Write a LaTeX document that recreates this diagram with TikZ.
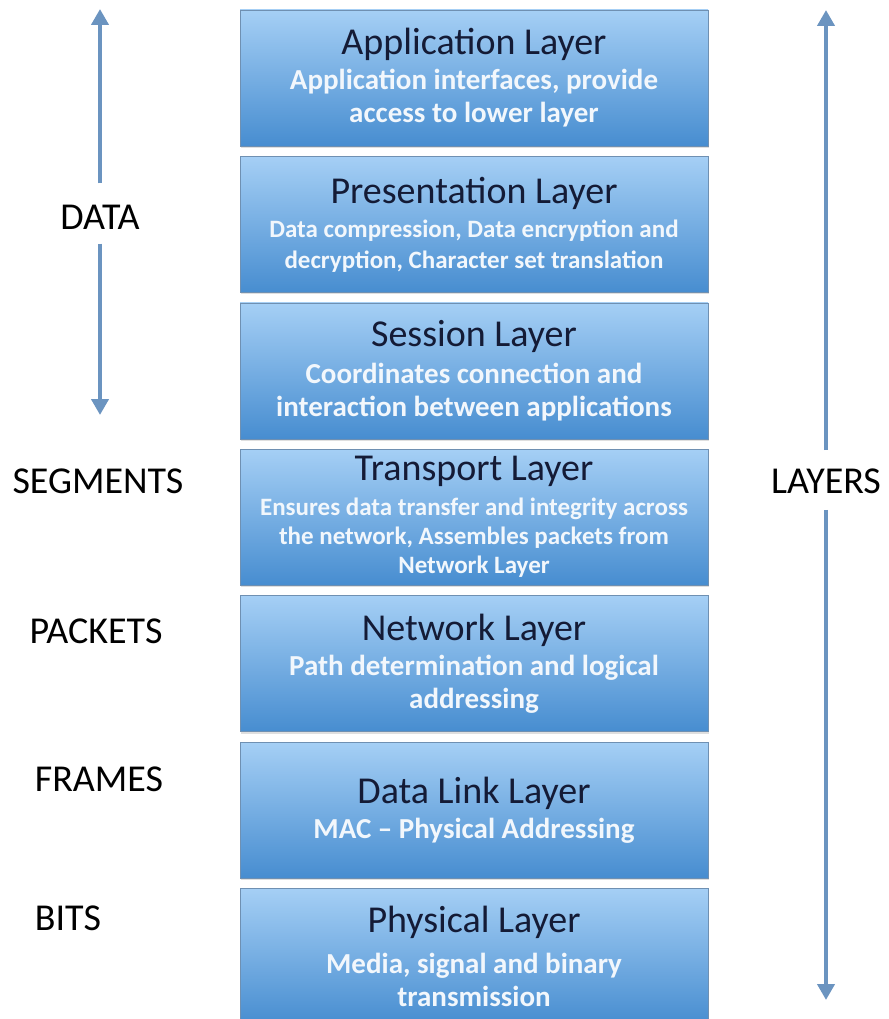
\documentclass[tikz,border=0pt]{standalone}
\usepackage{fontspec}
\setmainfont{Carlito}
\usetikzlibrary{positioning,shadows,arrows.meta}

\definecolor{boxtop}{HTML}{A5CFF5}
\definecolor{boxbot}{HTML}{478DD0}
\definecolor{boxline}{HTML}{6F90B2}
\definecolor{titlecol}{HTML}{141B36}
\definecolor{subcol}{HTML}{F2F7FC}
\definecolor{arrowcol}{HTML}{6B94C0}

\newcommand{\ltitle}[1]{{\fontsize{38}{40}\mdseries\selectfont\color{titlecol}#1}}

\tikzset{
  layer/.style={rectangle, draw=boxline, top color=boxtop, bottom color=boxbot,
    minimum width=468pt, minimum height=136pt, inner sep=0pt, align=center,
    drop shadow={shadow xshift=1pt, shadow yshift=-2pt, opacity=0.25},
    text=subcol, font=\fontsize{29}{33}\bfseries\selectfont},
  unit/.style={font=\fontsize{38}{40}\selectfont, text=black},
  pdu/.style={-{Triangle[length=16pt,width=17pt]}, line width=4pt, draw=arrowcol},
}

\begin{document}
\begin{tikzpicture}[x=1pt, y=-1pt]
    \useasboundingbox (0,0) rectangle (888,1019);

    % the seven layers
    \node[layer] (app) at (474,78) {\ltitle{Application Layer}\\[2pt]
        Application interfaces, provide\\ access to lower layer};
    \node[layer, below=10pt of app, font=\fontsize{25}{31}\bfseries\selectfont] (pres)
        {\ltitle{Presentation Layer}\\[3pt]
        Data compression, Data encryption and\\ decryption, Character set translation};
    \node[layer, below=10pt of pres] (sess) {\ltitle{Session Layer}\\[4pt]
        Coordinates connection and\\ interaction between applications};
    \node[layer, below=10pt of sess, font=\fontsize{25}{29}\bfseries\selectfont] (trans)
        {\ltitle{Transport Layer}\\[6pt]
        Ensures data transfer and integrity across\\ the network, Assembles packets from\\ Network Layer};
    \node[layer, below=10pt of trans] (net) {\ltitle{Network Layer}\\[2pt]
        Path determination and logical\\ addressing};
    \node[layer, below=10pt of net] (link) {\ltitle{Data Link Layer}\\[2pt]
        MAC -- Physical Addressing};
    \node[layer, below=10pt of link] (phys) {\ltitle{Physical Layer}\\[8pt]
        Media, signal and binary\\ transmission};

    % data units
    \node[unit] (data) at (100,217) {DATA};
    \node[unit] (seg) at (98,481) {SEGMENTS};
    \node[unit] (pkt) at (96,631) {PACKETS};
    \node[unit] (frm) at (99,779) {FRAMES};
    \node[unit] (bits) at (68,918) {BITS};
    \node[unit] (lyrs) at (826,481) {LAYERS};

    \coordinate (dtop) at (100,9);
    \coordinate (dbot) at (100,415);
    \coordinate (ltop) at (826,10);
    \coordinate (lbot) at (826,1000);

    \draw[pdu, shorten <=18pt] (data) -- (dtop);
    \draw[pdu, shorten <=11pt] (data) -- (dbot);
    \draw[pdu, shorten <=15pt] (lyrs) -- (ltop);
    \draw[pdu, shorten <=13pt] (lyrs) -- (lbot);
\end{tikzpicture}
\end{document}
